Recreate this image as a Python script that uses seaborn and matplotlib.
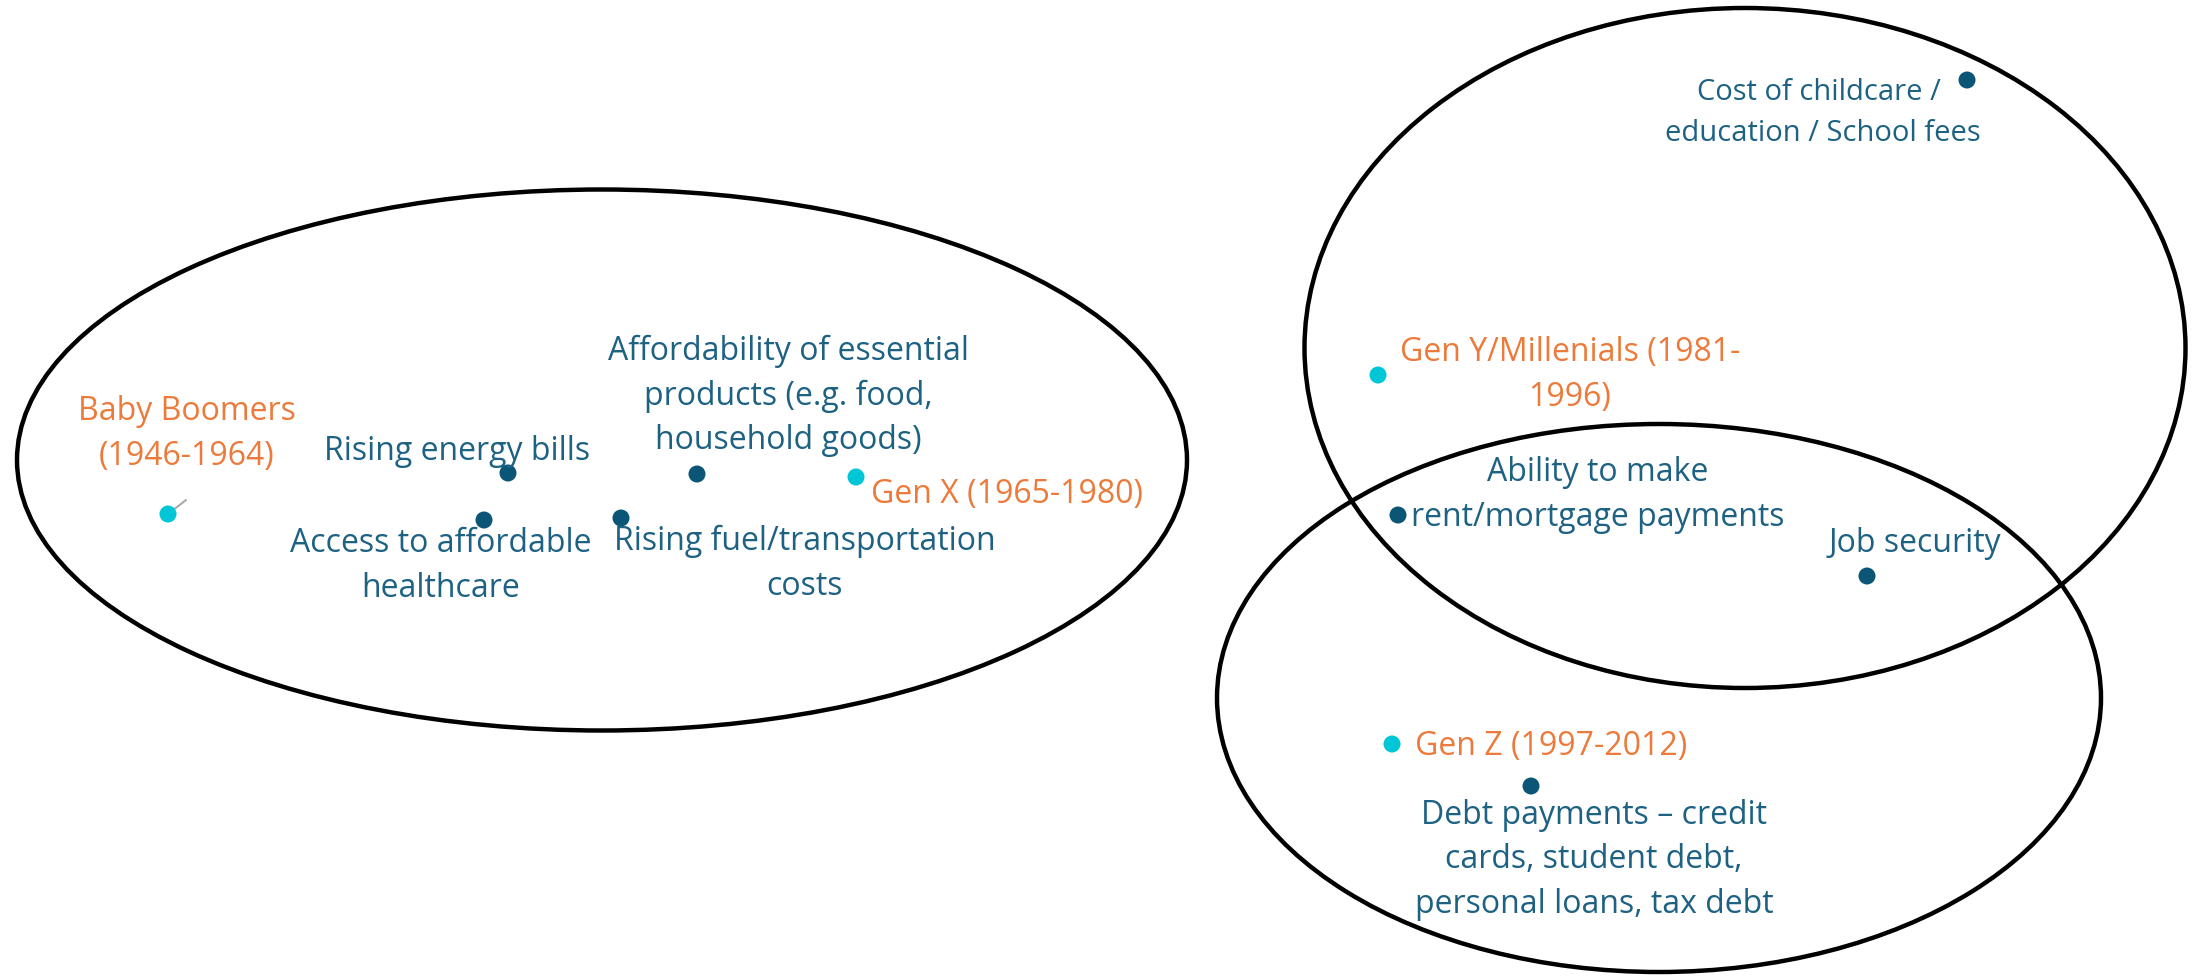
import matplotlib
matplotlib.use("Agg")
import matplotlib.pyplot as plt
from matplotlib.patches import Ellipse
import seaborn as sns
import pandas as pd

# map positions (x right, y down)
generations = ["Baby Boomers\n(1946-1964)", "Gen X (1965-1980)",
               "Gen Y/Millenials (1981-\n1996)", "Gen Z (1997-2012)"]
gen_x = [168, 856, 1378, 1392]
gen_y = [514, 477, 375, 744]

concerns = ["Rising energy bills", "Access to affordable\nhealthcare",
            "Rising fuel/transportation\ncosts",
            "Affordability of essential\nproducts (e.g. food,\nhousehold goods)",
            "Cost of childcare / \neducation / School fees",
            "Ability to make\nrent/mortgage payments", "Job security",
            "Debt payments \u2013 credit\ncards, student debt,\npersonal loans, tax debt"]
con_x = [508, 484, 621, 697, 1967, 1398, 1867, 1531]
con_y = [473, 520, 518, 474, 80, 515, 576, 786]

# cluster ellipses: centre x, centre y, width, height
ell_cx = [602, 1745, 1659]
ell_cy = [460, 348, 698]
ell_w = [1170, 881, 884]
ell_h = [541, 680, 548]

# label offsets from the point (pixels)
gen_off = [(19, -80), (151, 18), (192, 0), (159, 2)]
con_off = [(-51, -22), (-43, 46), (184, 46), (91, -78),
           (-144, 33), (200, -20), (48, -33), (63, 74)]

ORANGE = "#EC7A3A"
TEAL_TXT = "#1D6183"
TEAL_DOT = "#0B5576"
CYAN = "#00C6D6"

sns.set_theme(style="white")
plt.rcParams["font.family"] = ["Open Sans", "DejaVu Sans"]

df = pd.DataFrame({
    "x": gen_x + con_x,
    "y": gen_y + con_y,
    "label": generations + concerns,
    "kind": ["generation"] * len(generations) + ["concern"] * len(concerns),
})

fig = plt.figure(figsize=(21.94, 9.77), dpi=100)
ax = fig.add_axes([0, 0, 1, 1])

for cx, cy, w, h in zip(ell_cx, ell_cy, ell_w, ell_h):
    ax.add_patch(Ellipse((cx, cy), w, h, fill=False, edgecolor="black", lw=3.2, zorder=1))

sns.scatterplot(data=df, x="x", y="y", hue="kind",
                palette={"generation": CYAN, "concern": TEAL_DOT},
                s=150, edgecolor="none", legend=False, ax=ax, zorder=3)

# short leader line for Baby Boomers
ax.plot([gen_x[0], gen_x[0] + 18], [gen_y[0], gen_y[0] - 14], color="#AAAAAA", lw=1.5, zorder=2)

for lab, x, y, (dx, dy) in zip(generations, gen_x, gen_y, gen_off):
    ax.text(x + dx, y + dy, lab, color=ORANGE, fontsize=23, ha="center", va="center",
            linespacing=1.45, zorder=4)
for lab, x, y, (dx, dy) in zip(concerns, con_x, con_y, con_off):
    # the childcare label is set narrower in the original
    fs = 21 if lab.startswith("Cost of") else 23
    ax.text(x + dx, y + dy, lab, color=TEAL_TXT, fontsize=fs, ha="center", va="center",
            linespacing=1.45 * 23 / fs, zorder=4)

ax.set_xlim(0, 2194)
ax.set_ylim(977, 0)
ax.axis("off")

fig.savefig("out.png", dpi=100, facecolor="white")
